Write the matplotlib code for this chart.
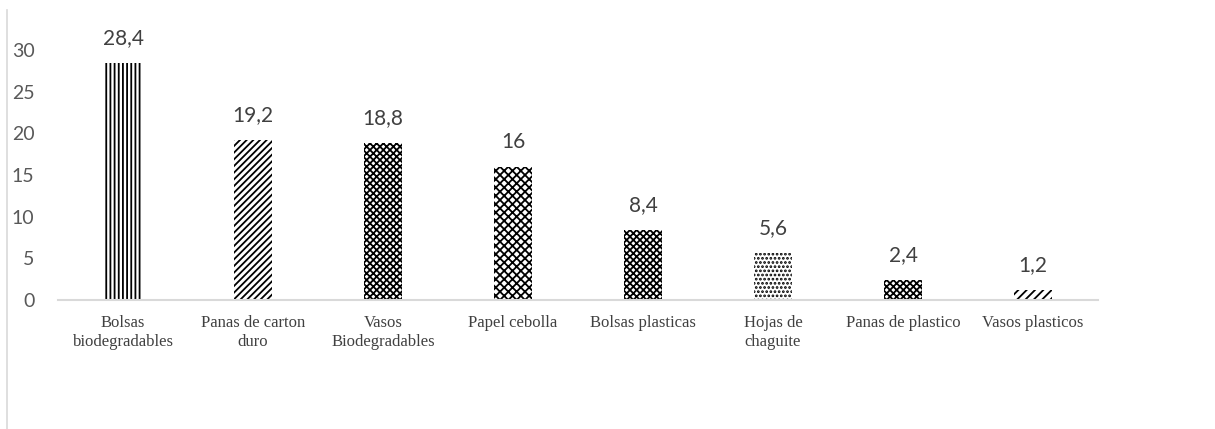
import matplotlib
matplotlib.use("Agg")
import matplotlib.pyplot as plt
from matplotlib.lines import Line2D

categories = ["Bolsas\nbiodegradables", "Panas de carton\nduro", "Vasos\nBiodegradables",
              "Papel cebolla", "Bolsas plasticas", "Hojas de\nchaguite",
              "Panas de plastico", "Vasos plasticos"]
values = [28.4, 19.2, 18.8, 16, 8.4, 5.6, 2.4, 1.2]
labels = ["28,4", "19,2", "18,8", "16", "8,4", "5,6", "2,4", "1,2"]
hatches = ["||||", "/////", "xxxxx", "xxxx", "xxxxx", "....", "xxxxx", "////"]
y_ticks = [0, 5, 10, 15, 20, 25, 30]

plt.rcParams["hatch.linewidth"] = 1.3

fig = plt.figure(figsize=(12.15, 4.29), dpi=100)
ax = fig.add_axes([58 / 1215, 129 / 429, 1040 / 1215, 250 / 429])

x = range(len(values))
bars = ax.bar(x, values, width=0.29, color="white", edgecolor="black", linewidth=0)
for b, h in zip(bars, hatches):
    b.set_hatch(h)

for b, lab in zip(bars, labels):
    ax.text(b.get_x() + b.get_width() / 2, b.get_height() + 1.8, lab,
            ha="center", va="bottom", fontsize=15, family="Lato", color="#404040",
            clip_on=False)

ax.set_xlim(-0.5, 7.5)
ax.set_ylim(0, 30)
ax.set_yticks(y_ticks)
ax.set_yticklabels([str(t) for t in y_ticks], family="Lato", fontsize=14, color="#595959")
ax.set_xticks(list(x))
ax.set_xticklabels(categories, family="Liberation Serif", fontsize=12, color="#404040",
                   linespacing=1.2)
ax.tick_params(axis="both", length=0)
ax.tick_params(axis="x", pad=11)
ax.tick_params(axis="y", pad=17)

for s in ["top", "right", "left"]:
    ax.spines[s].set_visible(False)
ax.spines["bottom"].set_color("#d9d9d9")
ax.spines["bottom"].set_linewidth(1.5)

# thin frame line on the left edge
fig.add_artist(Line2D([7 / 1215, 7 / 1215], [0, 1 - 10 / 429], transform=fig.transFigure,
                      color="#d9d9d9", linewidth=1.2))

fig.savefig("out.png", dpi=100)
